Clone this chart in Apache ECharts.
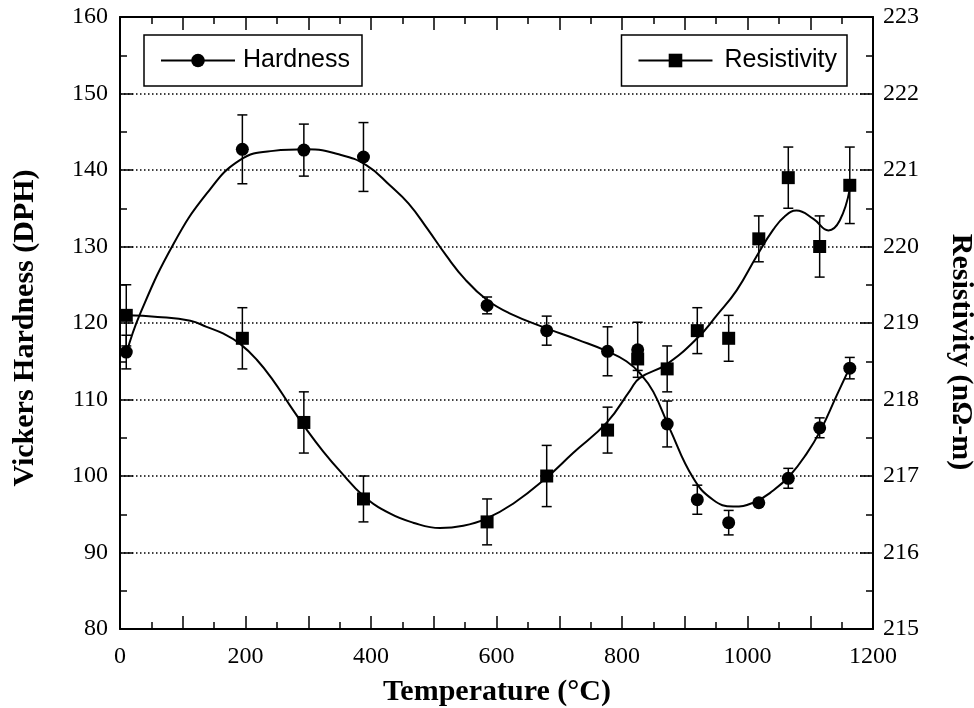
<!DOCTYPE html>
<html>
<head>
<meta charset="utf-8">
<title>Hardness and Resistivity vs Temperature</title>
<script src="https://cdn.jsdelivr.net/npm/echarts@6/dist/echarts.min.js"></script>
<style>
  html, body { margin: 0; padding: 0; background: #fff; }
  #chart { width: 974px; height: 708px; }
</style>
</head>
<body>
<div id="chart"></div>
<script>
// Measured points: annealing temperature (°C)
const temps = [10, 195, 293, 388, 585, 680, 777, 825, 872, 920, 970, 1018, 1065, 1115, 1163];

// Vickers hardness (DPH) and its error half-widths
const hardness    = [116.2, 142.7, 142.6, 141.7, 122.3, 119.0, 116.3, 116.5, 106.8, 96.9, 93.9, 96.5, 99.7, 106.3, 114.1];
const hardnessErr = [2.2, 4.5, 3.4, 4.5, 1.1, 1.9, 3.2, 3.6, 3.0, 1.9, 1.6, 0.4, 1.3, 1.3, 1.4];

// Resistivity (nΩ-m) and its error half-widths
const resistivity    = [219.1, 218.8, 217.7, 216.7, 216.4, 217.0, 217.6, 218.53, 218.4, 218.9, 218.8, 220.1, 220.9, 220.0, 220.8];
const resistivityErr = [0.4, 0.4, 0.4, 0.3, 0.3, 0.4, 0.3, 0.15, 0.3, 0.3, 0.3, 0.3, 0.4, 0.4, 0.5];

// Smoothed trend curves
const hardnessFitT = [10, 32, 85, 138, 191, 244, 297, 351, 393, 430, 460, 490, 520, 550, 585, 620, 680, 730, 777, 807, 829, 850, 876, 913, 945, 977, 1009, 1041, 1068, 1094, 1116, 1142, 1163];
const hardnessFit  = [116.0, 121.2, 130.3, 136.9, 141.3, 142.5, 142.7, 142.0, 140.6, 138.0, 135.6, 132.3, 128.8, 125.7, 123.0, 121.3, 119.3, 117.8, 116.3, 115.0, 113.4, 111.0, 106.2, 99.8, 96.9, 96.0, 96.5, 98.1, 100.1, 102.9, 105.9, 110.5, 114.2];

const resistivityFitT = [10, 60, 112, 138, 165, 191, 218, 244, 271, 298, 324, 351, 388, 430, 467, 510, 547, 583, 627, 680, 722, 776, 813, 828, 871, 921, 951, 983, 1015, 1041, 1060, 1078, 1105, 1129, 1147, 1163];
const resistivityFit  = [219.10, 219.08, 219.03, 218.95, 218.86, 218.73, 218.52, 218.25, 217.92, 217.60, 217.32, 217.06, 216.74, 216.51, 216.39, 216.32, 216.35, 216.44, 216.64, 216.98, 217.30, 217.70, 218.12, 218.28, 218.46, 218.81, 219.10, 219.43, 219.88, 220.22, 220.40, 220.47, 220.36, 220.21, 220.34, 220.75];

// Axis tick labels
const xTicks = [0, 200, 400, 600, 800, 1000, 1200];
const hardnessTicks = [80, 90, 100, 110, 120, 130, 140, 150, 160];
const resistivityTicks = [215, 216, 217, 218, 219, 220, 221, 222, 223];

const SERIF = "'Liberation Serif', 'Times New Roman', serif";
const SANS = "'Liberation Sans', Arial, sans-serif";

const chart = echarts.init(document.getElementById('chart'), null, { renderer: 'canvas' });

function pairs(xs, ys) { return xs.map((x, i) => [x, ys[i]]); }
function errData(xs, ys, es) { return xs.map((x, i) => [x, ys[i] - es[i], ys[i] + es[i]]); }

function renderErrorBar(params, api) {
  const x = api.value(0);
  const lo = api.coord([x, api.value(1)]);
  const hi = api.coord([x, api.value(2)]);
  const cap = 5;
  const style = { stroke: '#000', lineWidth: 1.5 };
  return {
    type: 'group',
    children: [
      { type: 'line', shape: { x1: lo[0], y1: lo[1], x2: hi[0], y2: hi[1] }, style },
      { type: 'line', shape: { x1: lo[0] - cap, y1: lo[1], x2: lo[0] + cap, y2: lo[1] }, style },
      { type: 'line', shape: { x1: hi[0] - cap, y1: hi[1], x2: hi[0] + cap, y2: hi[1] }, style }
    ]
  };
}

const axisLine = { show: true, onZero: false, lineStyle: { color: '#000', width: 2 } };
const tick = { show: true, inside: true, length: 13, lineStyle: { color: '#000', width: 1.5 } };
const minorTick = { show: true, splitNumber: 2, length: 7, lineStyle: { color: '#000', width: 1.5 } };

const xLabel = {
  show: true, color: '#000', fontFamily: SERIF, fontSize: 24, margin: 16,
  formatter: v => (xTicks.indexOf(v) >= 0 ? String(v) : '')
};

const legendBase = {
  orient: 'horizontal', itemWidth: 74, itemHeight: 17, top: 35,
  borderColor: '#000', borderWidth: 1.5, borderRadius: 0,
  backgroundColor: '#fff', selectedMode: false,
  lineStyle: { color: '#000', width: 2, opacity: 1 }
};

const option = {
  backgroundColor: '#fff',
  animation: false,
  grid: { left: 120, right: 101, top: 17, bottom: 79 },
  legend: [
    Object.assign({}, legendBase, {
      data: ['Hardness'], left: 144,
      padding: [13, 12, 13, 16],
      textStyle: { color: '#000', fontFamily: SANS, fontSize: 25, padding: [0, 0, 0, 3] }
    }),
    Object.assign({}, legendBase, {
      data: ['Resistivity'], right: 127,
      padding: [13, 10, 13, 16],
      textStyle: { color: '#000', fontFamily: SANS, fontSize: 25, padding: [0, 0, 0, 7] }
    })
  ],
  xAxis: [
    {
      type: 'value', position: 'bottom', min: 0, max: 1200, interval: 100,
      axisLine, axisTick: tick, minorTick, axisLabel: xLabel,
      splitLine: { show: false }
    },
    {
      type: 'value', position: 'top', min: 0, max: 1200, interval: 100,
      axisLine, axisTick: tick, minorTick, axisLabel: { show: false },
      splitLine: { show: false }
    }
  ],
  yAxis: [
    {
      type: 'value', position: 'left', min: hardnessTicks[0], max: hardnessTicks[hardnessTicks.length - 1], interval: 10,
      axisLine, axisTick: tick, minorTick,
      axisLabel: { color: '#000', fontFamily: SERIF, fontSize: 24, margin: 12 },
      splitLine: { show: true, lineStyle: { color: '#000', width: 1.5, type: [1.5, 2.5] } }
    },
    {
      type: 'value', position: 'right', min: resistivityTicks[0], max: resistivityTicks[resistivityTicks.length - 1], interval: 1,
      axisLine, axisTick: tick, minorTick,
      axisLabel: { color: '#000', fontFamily: SERIF, fontSize: 24, margin: 10 },
      splitLine: { show: false }
    }
  ],
  series: [
    {
      name: 'Hardness fit', type: 'line', xAxisIndex: 0, yAxisIndex: 0,
      data: pairs(hardnessFitT, hardnessFit), smooth: 0.45, showSymbol: false,
      lineStyle: { color: '#000', width: 2 }, z: 3, silent: true
    },
    {
      name: 'Resistivity fit', type: 'line', xAxisIndex: 0, yAxisIndex: 1,
      data: pairs(resistivityFitT, resistivityFit), smooth: 0.45, showSymbol: false,
      lineStyle: { color: '#000', width: 2 }, z: 3, silent: true
    },
    {
      name: 'Hardness error', type: 'custom', xAxisIndex: 0, yAxisIndex: 0,
      renderItem: renderErrorBar, data: errData(temps, hardness, hardnessErr), z: 4, silent: true
    },
    {
      name: 'Resistivity error', type: 'custom', xAxisIndex: 0, yAxisIndex: 1,
      renderItem: renderErrorBar, data: errData(temps, resistivity, resistivityErr), z: 4, silent: true
    },
    {
      name: 'Hardness', type: 'line', xAxisIndex: 0, yAxisIndex: 0,
      data: pairs(temps, hardness), symbol: 'circle', symbolSize: 13, showAllSymbol: true,
      itemStyle: { color: '#000' }, lineStyle: { width: 0, opacity: 0 }, z: 5
    },
    {
      name: 'Resistivity', type: 'line', xAxisIndex: 0, yAxisIndex: 1,
      data: pairs(temps, resistivity), symbol: 'rect', symbolSize: 13, showAllSymbol: true,
      itemStyle: { color: '#000' }, lineStyle: { width: 0, opacity: 0 }, z: 5
    }
  ],
  graphic: [
    {
      type: 'text', x: 497, y: 692,
      style: { text: 'Temperature (°C)', fill: '#000', font: 'bold 30px ' + SERIF, align: 'center', verticalAlign: 'middle' }
    },
    {
      type: 'text', x: 25, y: 328, rotation: Math.PI / 2,
      style: { text: 'Vickers Hardness (DPH)', fill: '#000', font: 'bold 30px ' + SERIF, align: 'center', verticalAlign: 'middle' }
    },
    {
      type: 'text', x: 961, y: 352, rotation: -Math.PI / 2,
      style: { text: 'Resistivity (nΩ-m)', fill: '#000', font: 'bold 30px ' + SERIF, align: 'center', verticalAlign: 'middle' }
    }
  ]
};

chart.setOption(option);
</script>
</body>
</html>
